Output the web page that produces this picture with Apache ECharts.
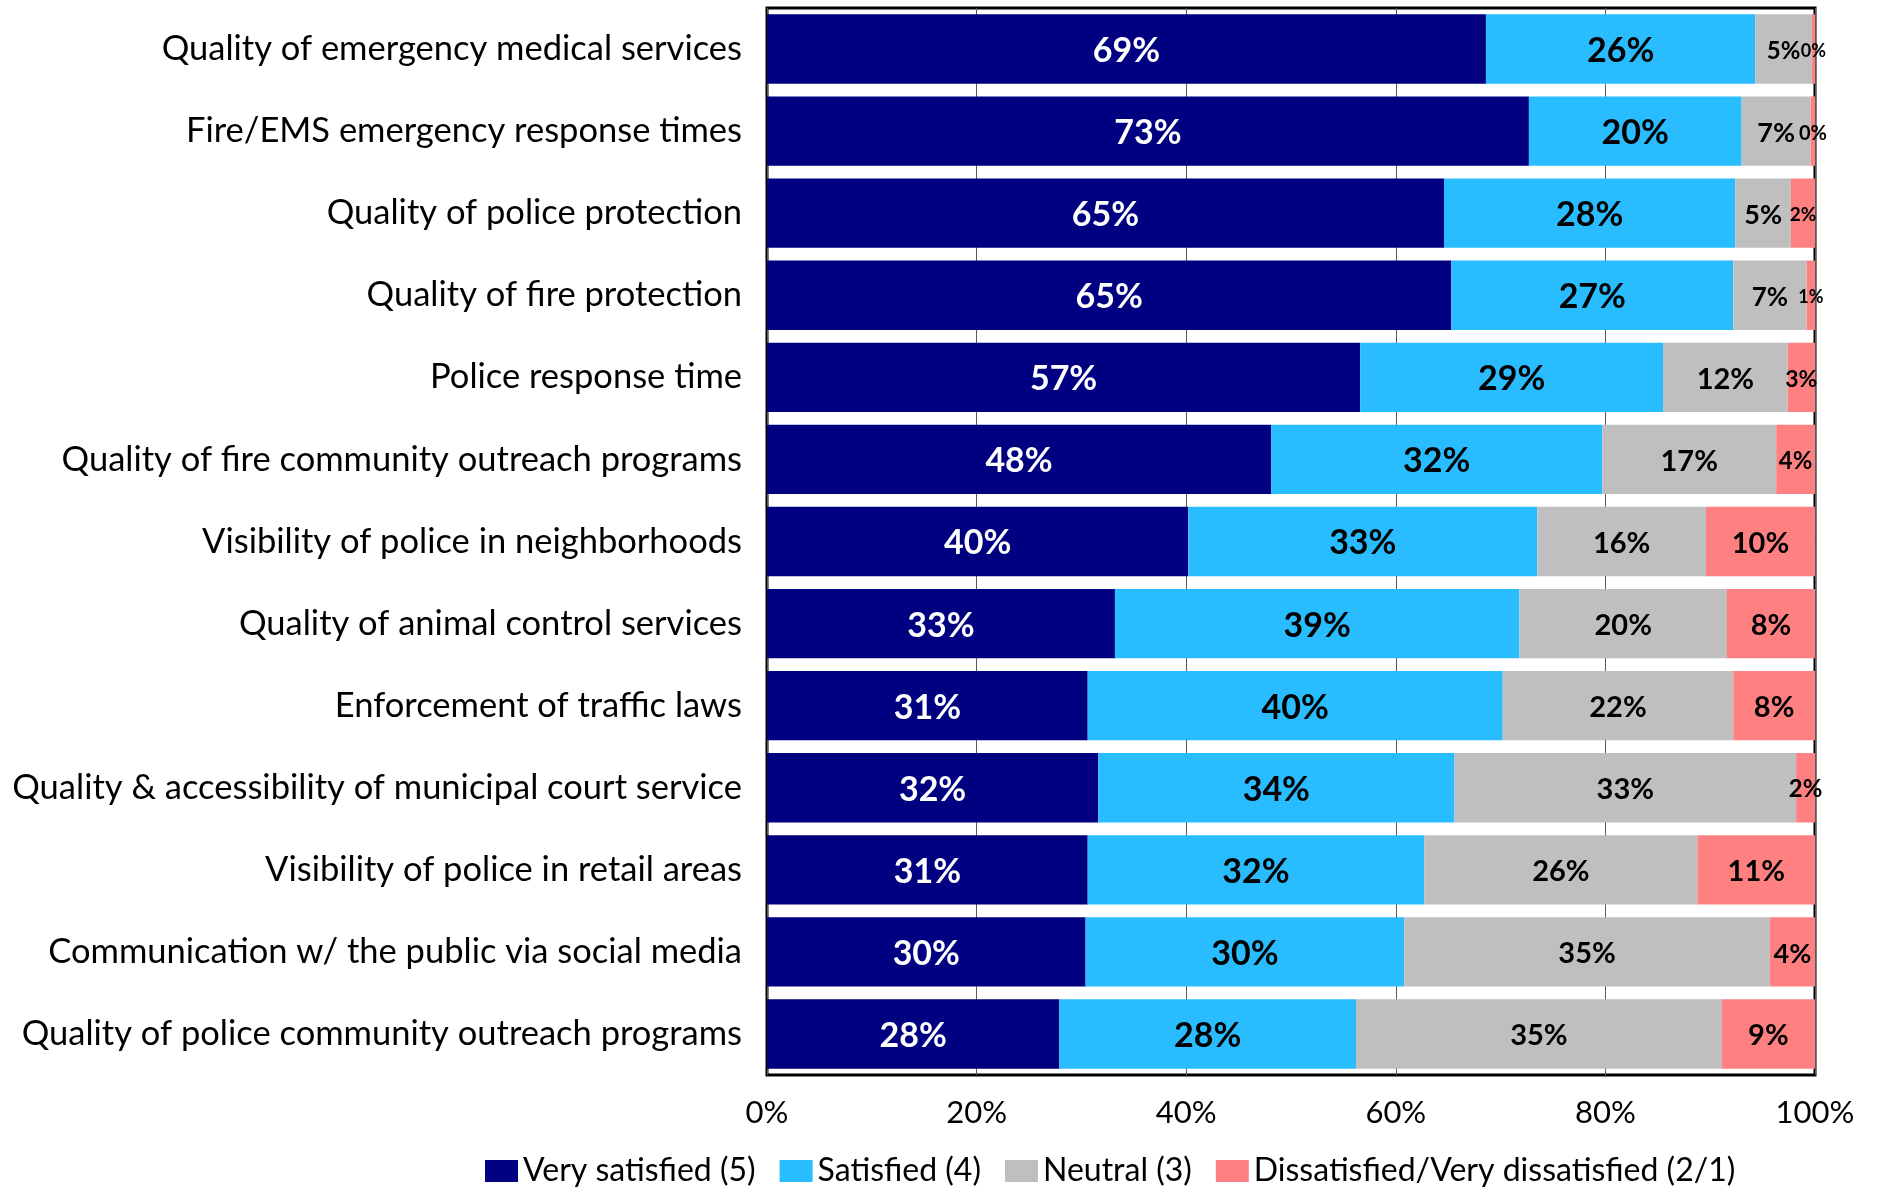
<!DOCTYPE html>
<html>
<head>
<meta charset="utf-8">
<title>Satisfaction with public safety services</title>
<script src="https://cdn.jsdelivr.net/npm/echarts@6/dist/echarts.min.js"></script>
<style>
  html, body { margin: 0; padding: 0; background: #fff; }
  #chart { width: 1877px; height: 1188px; }
</style>
</head>
<body>
<div id="chart"></div>
<script>
// Survey items, top to bottom
const categories = [
  'Quality of emergency medical services',
  'Fire/EMS emergency response times',
  'Quality of police protection',
  'Quality of fire protection',
  'Police response time',
  'Quality of fire community outreach programs',
  'Visibility of police in neighborhoods',
  'Quality of animal control services',
  'Enforcement of traffic laws',
  'Quality & accessibility of municipal court service',
  'Visibility of police in retail areas',
  'Communication w/ the public via social media',
  'Quality of police community outreach programs'
];

const seriesNames = [
  'Very satisfied (5)',
  'Satisfied (4)',
  'Neutral (3)',
  'Dissatisfied/Very dissatisfied (2/1)'
];

// Share of respondents (%) for each rating group
const verySatisfied = [68.6, 72.7, 64.6, 65.3, 56.6, 48.1, 40.2, 33.2, 30.6, 31.6, 30.6, 30.4, 27.9];
const satisfied     = [25.7, 20.3, 27.8, 26.9, 28.9, 31.6, 33.3, 38.6, 39.6, 34.0, 32.1, 30.4, 28.3];
const neutral       = [5.4, 6.6, 5.3, 7.0, 11.9, 16.6, 16.1, 19.8, 22.0, 32.6, 26.1, 34.9, 34.9];
const dissatisfied  = [0.3, 0.4, 2.3, 0.8, 2.6, 3.7, 10.4, 8.4, 7.8, 1.8, 11.2, 4.3, 8.9];

// x-axis ticks
const xTicks = [0, 20, 40, 60, 80, 100];

// Styling
const FONT = 'Lato, "Open Sans", sans-serif';
const colors = ['#000080', '#29BCFF', '#BFBFBF', '#FF8080'];
const labelColors = ['#ffffff', '#000000', '#000000', '#000000'];
const baseLabelSize = [34, 34, 29, 29];
// narrower segments carry smaller labels: {seriesIndex: {rowIndex: size}}
const labelSizeOverrides = {
  2: {0: 24, 1: 27, 2: 27, 3: 26},
  3: {0: 18, 1: 20, 2: 19, 3: 18, 4: 23, 5: 24, 9: 24, 11: 27}
};

const values = [verySatisfied, satisfied, neutral, dissatisfied];

const series = values.map((arr, si) => ({
  name: seriesNames[si],
  type: 'bar',
  stack: 'total',
  barCategoryGap: '15.5%',
  itemStyle: { color: colors[si] },
  label: {
    show: true,
    position: 'inside',
    offset: [0, 2],
    fontFamily: FONT,
    fontWeight: 'bold',
    fontSize: baseLabelSize[si],
    color: labelColors[si],
    formatter: p => Math.round(p.value) + '%'
  },
  data: arr.map((v, ri) => {
    const o = labelSizeOverrides[si] && labelSizeOverrides[si][ri];
    return o ? { value: v, label: { fontSize: o } } : v;
  })
}));

const chart = echarts.init(document.getElementById('chart'), null, { renderer: 'canvas' });

chart.setOption({
  animation: false,
  backgroundColor: '#ffffff',
  textStyle: { fontFamily: FONT },
  grid: {
    left: 767,
    right: 62,
    top: 8,
    bottom: 113,
    show: true,
    borderColor: '#000000',
    borderWidth: 3,
    containLabel: false
  },
  legend: {
    data: seriesNames,
    left: 480,
    top: 1150,
    itemWidth: 33,
    itemHeight: 22,
    itemGap: 24,
    icon: 'rect',
    textStyle: { fontFamily: FONT, fontSize: 32, color: '#000', padding: [0, 0, 0, 0] }
  },
  xAxis: {
    type: 'value',
    min: xTicks[0],
    max: xTicks[xTicks.length - 1],
    interval: xTicks[1] - xTicks[0],
    axisLine: { show: false },
    axisTick: { show: false },
    splitLine: { show: true, lineStyle: { color: '#595959', width: 1 } },
    axisLabel: {
      formatter: '{value}%',
      fontFamily: FONT,
      fontSize: 31,
      color: '#000',
      margin: 22
    }
  },
  yAxis: {
    type: 'category',
    data: categories,
    inverse: true,
    axisLine: { show: false },
    axisTick: { show: false },
    splitLine: { show: false },
    axisLabel: {
      fontFamily: FONT,
      fontSize: 34.5,
      color: '#000',
      margin: 25,
      padding: [9, 0, 0, 0]
    }
  },
  series: series
});
</script>
</body>
</html>
